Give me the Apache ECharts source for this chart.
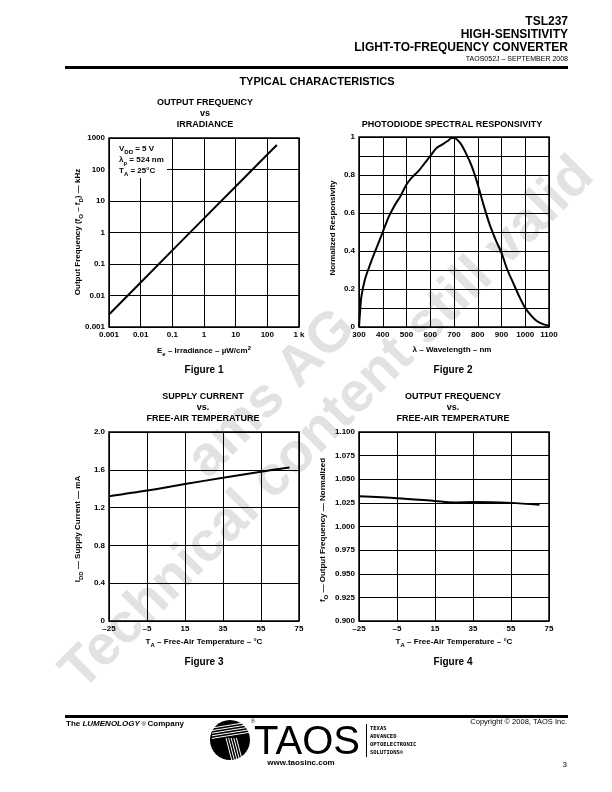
<!DOCTYPE html>
<html><head><meta charset="utf-8">
<script src="https://cdn.jsdelivr.net/npm/echarts@6/dist/echarts.min.js"></script>
<style>html,body{margin:0;padding:0;background:#fff}#c{width:612px;height:792px}</style>
</head><body><div id="c"></div>
<script>
// ---- Figure 1: output frequency vs irradiance (log-log)
const irradiance = [0.001, 0.01, 0.1, 1, 10, 100, 200];
const outputFreq = [0.0025, 0.026, 0.27, 2.8, 29, 300, 600];
const fig1XTicks = ['0.001', '0.01', '0.1', '1', '10', '100', '1 k'];
const fig1YTicks = ['0.001', '0.01', '0.1', '1', '10', '100', '1000'];
// ---- Figure 2: spectral responsivity
const wavelength = [300, 305, 310, 325, 350, 375, 400, 425, 450, 475, 500, 525, 550, 575, 600, 625, 650, 675, 690, 700, 725, 750, 775, 800, 825, 850, 875, 900, 925, 950, 975, 1000, 1025, 1050, 1075, 1100];
const responsivity = [0, 0.09, 0.16, 0.25, 0.34, 0.42, 0.50, 0.58, 0.64, 0.69, 0.75, 0.79, 0.82, 0.86, 0.90, 0.94, 0.96, 0.98, 0.995, 0.995, 0.97, 0.915, 0.845, 0.75, 0.64, 0.54, 0.46, 0.39, 0.30, 0.23, 0.16, 0.10, 0.06, 0.03, 0.015, 0.007];
const fig2XTicks = ['300', '400', '500', '600', '700', '800', '900', '1000', '1100'];
const fig2YTicks = ['0', '0.2', '0.4', '0.6', '0.8', '1'];
// ---- Figure 3: supply current vs temperature
const temp3 = [-25, -5, 15, 35, 55, 70];
const supplyCurrent = [1.32, 1.38, 1.45, 1.515, 1.58, 1.625];
const tempTickValues = [-25, -5, 15, 35, 55, 75];
const tempTicks = ['\u201325', '\u20135', '15', '35', '55', '75'];
const fig3YTicks = ['0', '0.4', '0.8', '1.2', '1.6', '2.0'];
// ---- Figure 4: output frequency vs temperature
const temp4 = [-25, -5, 15, 25, 35, 55, 70];
const freqNorm = [1.032, 1.030, 1.027, 1.0255, 1.026, 1.025, 1.023];
const fig4YTicks = ['0.900', '0.925', '0.950', '0.975', '1.000', '1.025', '1.050', '1.075', '1.100'];

const FONT = "'Liberation Sans', Arial, Helvetica, sans-serif";
const chart = echarts.init(document.getElementById('c'), null, {renderer: 'canvas'});

const grids = [
  {left: 109, top: 138, width: 190, height: 189},
  {left: 359, top: 137, width: 190, height: 190},
  {left: 109, top: 432, width: 190, height: 189},
  {left: 359, top: 432, width: 190, height: 189}
].map(g => Object.assign({show: true, borderColor: '#000', borderWidth: 1.5, backgroundColor: 'transparent'}, g));

function axisBase(extra) {
  return Object.assign({
    axisLine: {show: false},
    axisTick: {show: false},
    splitLine: {show: true, lineStyle: {color: '#000', width: 1}},
    z: 1
  }, extra);
}
function lbl(fmt, extra) {
  return Object.assign({color: '#000', fontSize: 8, fontWeight: 'bold', fontFamily: FONT, margin: 4, showMinLabel: true, showMaxLabel: true, formatter: fmt}, extra || {});
}

const xAxes = [
  axisBase({gridIndex: 0, type: 'log', logBase: 10, min: 0.001, max: 1000, splitNumber: 6,
    axisLabel: lbl(v => fig1XTicks[Math.round(Math.log10(v)) + 3])}),
  axisBase({gridIndex: 1, type: 'value', min: 300, max: 1100, interval: 100,
    axisLabel: lbl(v => fig2XTicks[Math.round((v - 300) / 100)])}),
  axisBase({gridIndex: 2, type: 'value', min: -25, max: 75,
    axisTick: {show: false, customValues: tempTickValues},
    axisLabel: lbl(v => tempTicks[tempTickValues.indexOf(Math.round(v))], {customValues: tempTickValues})}),
  axisBase({gridIndex: 3, type: 'value', min: -25, max: 75,
    axisTick: {show: false, customValues: tempTickValues},
    axisLabel: lbl(v => tempTicks[tempTickValues.indexOf(Math.round(v))], {customValues: tempTickValues})})
];
const yAxes = [
  axisBase({gridIndex: 0, type: 'log', logBase: 10, min: 0.001, max: 1000, splitNumber: 6,
    axisLabel: lbl(v => fig1YTicks[Math.round(Math.log10(v)) + 3])}),
  axisBase({gridIndex: 1, type: 'value', min: 0, max: 1, interval: 0.1,
    axisLabel: lbl(v => { const k = Math.round(v * 10); return k % 2 === 0 ? fig2YTicks[k / 2] : ''; })}),
  axisBase({gridIndex: 2, type: 'value', min: 0, max: 2, interval: 0.4,
    axisLabel: lbl(v => fig3YTicks[Math.round(v / 0.4)])}),
  axisBase({gridIndex: 3, type: 'value', min: 0.9, max: 1.1, interval: 0.025,
    axisLabel: lbl(v => fig4YTicks[Math.round((v - 0.9) / 0.025)])})
];

function lineSeries(i, xs, ys, smooth) {
  return {type: 'line', xAxisIndex: i, yAxisIndex: i, data: xs.map((x, k) => [x, ys[k]]),
    showSymbol: false, smooth: smooth, lineStyle: {color: '#000', width: 2}, z: 5, animation: false};
}
const series = [
  lineSeries(0, irradiance, outputFreq, false),
  lineSeries(1, wavelength, responsivity, 0.3),
  lineSeries(2, temp3, supplyCurrent, 0.3),
  lineSeries(3, temp4, freqNorm, 0.3)
];

const R = {
  b: {fontSize: 8, fontWeight: 'bold', fontFamily: FONT, lineHeight: 12, fill: '#000'},
  s: {fontSize: 6, fontWeight: 'bold', fontFamily: FONT, lineHeight: 6, verticalAlign: 'bottom', fill: '#000'},
  p: {fontSize: 6, fontWeight: 'bold', fontFamily: FONT, lineHeight: 6, verticalAlign: 'top', fill: '#000'}
};
function txt(x, y, text, size, opts) {
  opts = opts || {};
  return {type: 'text', x: x, y: y, rotation: opts.rot || 0, z: opts.z || 20, silent: true,
    style: {text: text, fill: opts.fill || '#000', font: (opts.style || '') + ' ' + (opts.weight || 'bold') + ' ' + size + 'px ' + (opts.family || FONT),
      align: opts.align || 'center', verticalAlign: 'middle', rich: opts.rich}};
}
const graphic = [
  // watermark
  txt(328, 424, 'Technical content still valid', 56, {rot: Math.PI / 4, fill: '#e2e2e2', z: -10}),
  txt(272, 394, 'ams AG', 56, {rot: Math.PI / 4, fill: '#e2e2e2', z: -10}),
  // header
  txt(568, 22, 'TSL237', 12, {align: 'right'}),
  txt(568, 35, 'HIGH-SENSITIVITY', 12, {align: 'right'}),
  txt(568, 48, 'LIGHT-TO-FREQUENCY CONVERTER', 12, {align: 'right'}),
  txt(568, 59, 'TAOS052J \u2013 SEPTEMBER 2008', 7, {align: 'right', weight: 'normal'}),
  {type: 'rect', shape: {x: 65, y: 66, width: 503, height: 3}, style: {fill: '#000'}, z: 20, silent: true},
  txt(317, 82, 'TYPICAL CHARACTERISTICS', 11),
  // figure titles
  txt(205, 103, 'OUTPUT FREQUENCY', 9), txt(205, 114, 'vs', 9), txt(205, 125, 'IRRADIANCE', 9),
  txt(452, 125, 'PHOTODIODE SPECTRAL RESPONSIVITY', 9),
  txt(203, 397, 'SUPPLY CURRENT', 9), txt(203, 408, 'vs.', 9), txt(203, 419, 'FREE-AIR TEMPERATURE', 9),
  txt(453, 397, 'OUTPUT FREQUENCY', 9), txt(453, 408, 'vs.', 9), txt(453, 419, 'FREE-AIR TEMPERATURE', 9),
  // annotation box fig 1
  {type: 'rect', shape: {x: 110, y: 139, width: 57, height: 39}, style: {fill: '#fff'}, z: 10, silent: true},
  txt(119, 149, '{b|V}{s|DD}{b| = 5 V}', 8, {align: 'left', rich: R}),
  txt(119, 160, '{b|\u03bb}{s|p}{b| = 524 nm}', 8, {align: 'left', rich: R}),
  txt(119, 171, '{b|T}{s|A}{b| = 25\u00b0C}', 8, {align: 'left', rich: R}),
  // axis titles
  txt(204, 351, '{b|E}{s|e}{b| \u2013 Irradiance \u2013 \u00b5W/cm}{p|2}', 8, {rich: R}),
  txt(78, 232, '{b|Output Frequency (f}{s|O}{b| \u2013 f}{s|D}{b|) \u2014 kHz}', 8, {rot: Math.PI / 2, rich: R}),
  txt(452, 350, '\u03bb \u2013 Wavelength \u2013 nm', 8),
  txt(333, 228, 'Normalized Responsivity', 8, {rot: Math.PI / 2}),
  txt(204, 642, '{b|T}{s|A}{b| \u2013 Free-Air Temperature \u2013 \u00b0C}', 8, {rich: R}),
  txt(78, 529, '{b|I}{s|DD}{b| \u2014 Supply Current \u2014 mA}', 8, {rot: Math.PI / 2, rich: R}),
  txt(454, 642, '{b|T}{s|A}{b| \u2013 Free-Air Temperature \u2013 \u00b0C}', 8, {rich: R}),
  txt(323, 530, '{b|f}{s|O}{b| \u2014 Output Frequency \u2014 Normalized}', 8, {rot: Math.PI / 2, rich: R}),
  // figure captions
  txt(204, 370, 'Figure 1', 10), txt(453, 370, 'Figure 2', 10),
  txt(204, 662, 'Figure 3', 10), txt(453, 662, 'Figure 4', 10),
  // footer
  {type: 'rect', shape: {x: 65, y: 715, width: 503, height: 3}, style: {fill: '#000'}, z: 20, silent: true},
  txt(66, 724, '{b|The }{i|LUMENOLOGY}{r| \u00ae }{b|Company}', 8, {align: 'left', rich: {
    b: {fontSize: 8, fontWeight: 'bold', fontFamily: FONT, fill: '#000'},
    i: {fontSize: 8, fontWeight: 'bold', fontStyle: 'italic', fontFamily: FONT, fill: '#000'},
    r: {fontSize: 6, fontFamily: FONT, fill: '#000'}}}),
  txt(567, 722, 'Copyright \u00a9 2008, TAOS Inc.', 7.5, {align: 'right', weight: 'normal'}),
  txt(567, 765, '3', 8, {align: 'right', weight: 'normal'}),
  {type: 'circle', shape: {cx: 230, cy: 740, r: 20}, style: {fill: '#000'}, z: 20, silent: true},
  {type: 'group', z: 21, children: [0, 1, 2, 3, 4].map(i => ({type: 'line', shape: {x1: 212, y1: 728 + i * 2.6, x2: 249, y2: 722 + i * 2.6}, style: {stroke: '#fff', lineWidth: 1}, z: 21, silent: true}))
    .concat([0, 1, 2, 3, 4].map(i => ({type: 'line', shape: {x1: 226 + i * 2.6, y1: 738, x2: 232 + i * 2.6, y2: 761}, style: {stroke: '#fff', lineWidth: 1}, z: 21, silent: true})))},
  txt(251, 722, '\u00ae', 5, {align: 'left', weight: 'normal'}),
  txt(307, 743, 'TAOS', 40, {weight: 'normal'}),
  txt(301, 763, 'www.taosinc.com', 8),
  {type: 'rect', shape: {x: 366, y: 724, width: 1, height: 33}, style: {fill: '#000'}, z: 20, silent: true},
  txt(370, 729, 'TEXAS', 5.5, {align: 'left', family: "'DejaVu Sans Mono', monospace"}),
  txt(370, 737, 'ADVANCED', 5.5, {align: 'left', family: "'DejaVu Sans Mono', monospace"}),
  txt(370, 745, 'OPTOELECTRONIC', 5.5, {align: 'left', family: "'DejaVu Sans Mono', monospace"}),
  txt(370, 753, 'SOLUTIONS\u00ae', 5.5, {align: 'left', family: "'DejaVu Sans Mono', monospace"})
];

chart.setOption({
  animation: false,
  backgroundColor: '#fff',
  grid: grids,
  xAxis: xAxes,
  yAxis: yAxes,
  series: series,
  graphic: graphic
});
</script>
</body></html>
